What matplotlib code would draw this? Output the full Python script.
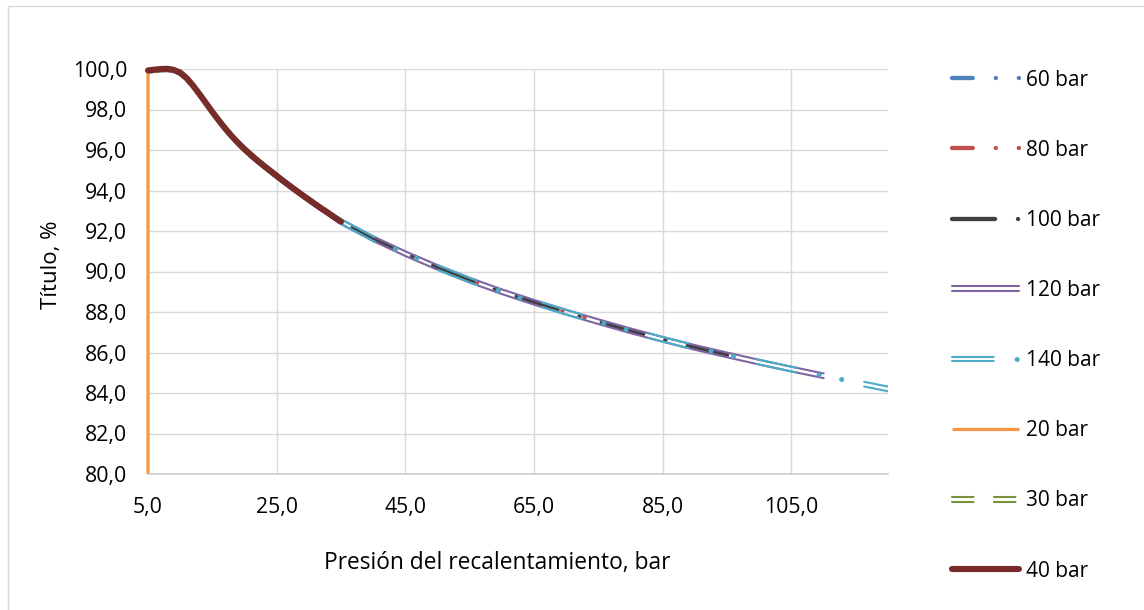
import matplotlib
matplotlib.use('Agg')
import numpy as np
import matplotlib.pyplot as plt
from matplotlib import patheffects as pe
from matplotlib.patches import Rectangle
from matplotlib.legend_handler import HandlerTuple

plt.rcParams['font.family'] = ['Open Sans', 'DejaVu Sans']
plt.rcParams['lines.scale_dashes'] = False

# ---- data ----
pressure = [5, 6, 7, 8, 9, 10, 11, 12, 13, 14, 15, 16, 17, 18, 19, 20, 21, 22, 23, 24, 25,
            26, 27, 28, 29, 30, 31, 32, 33, 34, 35, 40, 45, 50, 55, 60, 65, 70, 75, 80, 85,
            90, 95, 100, 105, 110, 115, 120, 125, 130]
titulo = [99.93, 99.97, 100.0, 100.01, 99.96, 99.82, 99.55, 99.18, 98.76, 98.32, 97.88,
          97.46, 97.06, 96.69, 96.35, 96.04, 95.75, 95.48, 95.22, 94.97, 94.72, 94.475,
          94.235, 94.0, 93.77, 93.545, 93.32, 93.1, 92.89, 92.67, 92.46, 91.62, 90.88, 90.2,
          89.57, 89.0, 88.48, 87.99, 87.52, 87.07, 86.65, 86.25, 85.88, 85.52, 85.18, 84.85,
          84.52, 84.2, 83.9, 83.6]

series_labels = ['60 bar', '80 bar', '100 bar', '120 bar', '140 bar', '20 bar', '30 bar', '40 bar']
series_max_p = [55, 75, 95, 110, 130, 15, 25, 35]
start_20bar = (5, 80.0)   # vertical segment of the 20 bar series

x_ticks = [5, 25, 45, 65, 85, 105]
y_ticks = [80, 82, 84, 86, 88, 90, 92, 94, 96, 98, 100]

fig = plt.figure(figsize=(11.44, 6.10), dpi=100)
ax = fig.add_axes([148 / 1144, 1 - 474 / 610, 740 / 1144, 405 / 610])
ax.set_xlim(5, 120)
ax.set_ylim(80, 100)


def series(pmax):
    xs = [p for p in pressure if p <= pmax]
    ys = titulo[:len(xs)]
    return xs, ys


def arc_pts(xs, ys, x_stop):
    """Length (points) along the drawn polyline from its start to x_stop."""
    pts = ax.transData.transform(np.column_stack([xs, ys]))
    total = 0.0
    for (x0, y0), (x1, y1), xd0, xd1 in zip(pts[:-1], pts[1:], xs[:-1], xs[1:]):
        if xd1 <= x_stop:
            total += np.hypot(x1 - x0, y1 - y0)
        else:
            f = (x_stop - xd0) / (xd1 - xd0)
            if f > 0:
                total += f * np.hypot(x1 - x0, y1 - y0)
            break
    return total * 72 / fig.dpi


def double_fx(color, off=1.7):
    return [pe.SimpleLineShadow(offset=(0, off), shadow_color=color, alpha=1, rho=1),
            pe.SimpleLineShadow(offset=(0, -off), shadow_color=color, alpha=1, rho=1)]


common = dict(dash_capstyle='round', solid_capstyle='round', solid_joinstyle='round',
              dash_joinstyle='round')
handles = []
DOT = 0.1
OFF = 16.5
LW = 3.1

for lab, pmax in zip(series_labels, series_max_p):
    xs, ys = series(pmax)
    if lab == '60 bar':
        h, = ax.plot(xs, ys, color='#4F81BD', lw=LW,
                     linestyle=(0, (15, OFF, DOT, OFF, DOT, OFF)), **common)
    elif lab == '80 bar':
        h, = ax.plot(xs, ys, color='#C0504D', lw=LW,
                     linestyle=(0, (15, OFF, DOT, OFF, DOT, OFF)), **common)
    elif lab == '100 bar':
        h, = ax.plot(xs, ys, color='#404040', lw=LW,
                     linestyle=(0, (31, OFF, DOT, OFF)), **common)
    elif lab == '120 bar':
        h, = ax.plot(xs, ys, color='#8064A2', lw=1.5,
                     path_effects=double_fx('#8064A2'), **common)
    elif lab == '140 bar':
        on = 30
        period = on + 3 * OFF + 2 * DOT
        o1 = (-arc_pts(xs, ys, 116.3)) % period
        h1, = ax.plot(xs, ys, color='#4BACC6', lw=1.5,
                      linestyle=(o1, (on, period - on)), path_effects=double_fx('#4BACC6'),
                      **common)
        h2, = ax.plot(xs, ys, color='#4BACC6', lw=3.6,
                      linestyle=((period - (on + OFF) + o1) % period,
                                 (DOT, OFF, DOT, OFF + on + OFF)), **common)
        # legend copies keep the pattern starting with the dash
        l1, = ax.plot([], [], color='#4BACC6', lw=1.5, linestyle=(0, (on, period - on)),
                      path_effects=double_fx('#4BACC6'), **common)
        l2, = ax.plot([], [], color='#4BACC6', lw=3.6,
                      linestyle=(period - (on + OFF), (DOT, OFF, DOT, OFF + on + OFF)), **common)
        h = (l1, l2)
    elif lab == '20 bar':
        h, = ax.plot([start_20bar[0]] + xs, [start_20bar[1]] + ys, color='#F79646', lw=2.3,
                     solid_capstyle='butt', solid_joinstyle='round', clip_on=False)
    elif lab == '30 bar':
        h, = ax.plot(xs, ys, color='#77933C', lw=1.5,
                     linestyle=(0, (15.5, 14.7)), path_effects=double_fx('#77933C'), **common)
    else:  # 40 bar
        h, = ax.plot(xs, ys, color='#772C2A', lw=4.4, clip_on=False, **common)
    handles.append(h)

ax.set_xticks(x_ticks)
ax.set_yticks(y_ticks)
ax.set_xticklabels([f'{v:.1f}'.replace('.', ',') for v in x_ticks])
ax.set_yticklabels([f'{v:.1f}'.replace('.', ',') for v in y_ticks])
ax.tick_params(axis='both', length=0, labelsize=15.3, labelcolor='black')
ax.tick_params(axis='x', pad=16.5)
ax.tick_params(axis='y', pad=15)
ax.grid(True, color='#D9D9D9', lw=1.0)
ax.set_axisbelow(True)
for s in ['top', 'right', 'left']:
    ax.spines[s].set_visible(False)
ax.spines['bottom'].set_color('#C8C8C8')
ax.spines['bottom'].set_linewidth(1.1)

ax.set_xlabel('Presión del recalentamiento, bar', fontsize=16.4, color='black', va='baseline')
ax.xaxis.set_label_coords((497 - 148) / 740, (474 - 569.3) / 405)
ax.set_ylabel('Título, %', fontsize=16.0, color='black', rotation=90,
              rotation_mode='anchor', ha='center', va='baseline')
ax.yaxis.set_label_coords((56.7 - 148) / 740, (474 - 265) / 405)

fig.legend(handles, series_labels, loc='upper left',
           bbox_to_anchor=(952 / 1144, 1 - 69.5 / 610), frameon=False, borderpad=0,
           borderaxespad=0, handlelength=3.2, handletextpad=0.35, labelspacing=2.36,
           fontsize=15, handler_map={tuple: HandlerTuple(ndivide=1)})

fig.add_artist(Rectangle((8.3 / 1144, -0.05), 1.1, (1 - 6 / 610) + 0.05,
                         transform=fig.transFigure, fill=False, edgecolor='#D9D9D9', lw=1))

fig.savefig('out.png', dpi=100)
